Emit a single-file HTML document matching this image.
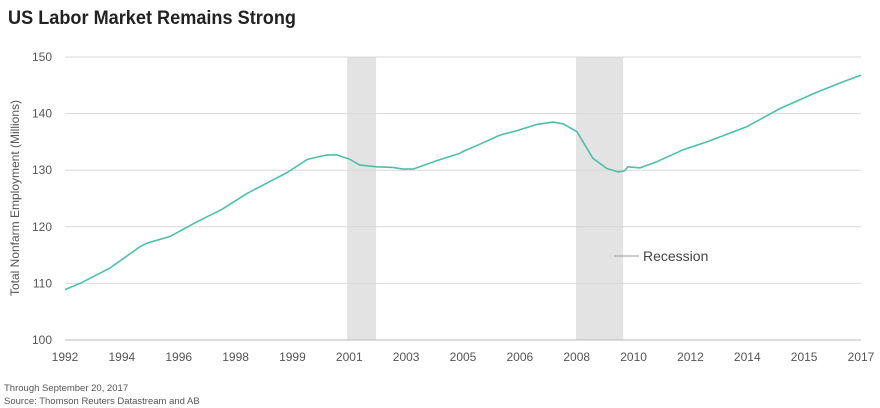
<!DOCTYPE html>
<html><head><meta charset="utf-8"><style>
body{margin:0;background:#fff;font-family:"Liberation Sans",sans-serif;}
#wrap{position:relative;width:880px;height:408px;overflow:hidden;}
</style></head><body>
<div id="wrap">
<svg id="chart" width="880" height="408"></svg>
</div>
<script>
const years=[1992.0,1992.47,1993.41,1994.36,1994.58,1995.30,1996.15,1996.93,1997.72,1998.54,1998.98,1999.61,2000.23,2000.54,2000.95,2001.26,2001.80,2002.30,2002.62,2002.93,2003.68,2004.41,2004.50,2005.03,2005.66,2006.20,2006.82,2007.33,2007.64,2008.08,2008.58,2009.02,2009.37,2009.58,2009.68,2010.06,2010.59,2011.41,2012.16,2013.42,2014.46,2015.62,2016.43,2017.0];
const employment=[108.9,110.0,112.7,116.5,117.1,118.3,120.9,123.1,125.9,128.3,129.6,131.9,132.7,132.7,131.9,130.9,130.6,130.5,130.2,130.2,131.7,133.0,133.3,134.6,136.2,137.0,138.1,138.5,138.2,136.8,132.1,130.3,129.7,129.9,130.6,130.4,131.5,133.6,135.0,137.7,140.9,143.8,145.6,146.8];
const recessionStart=[2000.86,2008.05];
const recessionEnd=[2001.77,2009.53];
const yTicks=[100,110,120,130,140,150];
const xTickLabels=["1992","1994","1996","1998","1999","2001","2003","2005","2006","2008","2010","2012","2014","2015","2017"];

const NS="http://www.w3.org/2000/svg";
const svg=document.getElementById('chart');
const X0=65,X1=861,Y0=340,Y1=57,xMin=1992,xMax=2017,yMin=100,yMax=150;
const xs=v=>X0+(v-xMin)/(xMax-xMin)*(X1-X0);
const ys=v=>Y0-(v-yMin)/(yMax-yMin)*(Y0-Y1);
function mk(t,a,txt){const e=document.createElementNS(NS,t);for(const k in a)e.setAttribute(k,a[k]);if(txt!==undefined)e.textContent=txt;svg.appendChild(e);return e;}

let e=mk('text',{x:8,y:24,'font-size':19,'font-weight':'bold',fill:'#222',textLength:288,lengthAdjust:'spacingAndGlyphs'},'US Labor Market Remains Strong');



for(let i=0;i<recessionStart.length;i++){
  e=mk('rect',{x:xs(recessionStart[i]),y:Y1,width:xs(recessionEnd[i])-xs(recessionStart[i]),height:Y0-Y1,fill:'#e3e3e3'});
  
  
}
yTicks.forEach(v=>{
  e=mk('line',{x1:X0,x2:X1,y1:ys(v),y2:ys(v),stroke:v===100?'#bbb':'#d8d8d8','stroke-width':1});
  
  
  e=mk('text',{x:52,y:ys(v)+4,'font-size':12,fill:'#555','text-anchor':'end'},String(v));
  
  
});
xTickLabels.forEach((l,i)=>{
  const x=X0+i*(X1-X0)/(xTickLabels.length-1);
  e=mk('text',{x:x,y:361,'font-size':12,fill:'#555','text-anchor':'middle'},l);
  
  
});
e=mk('text',{x:0,y:0,'font-size':12,fill:'#555','text-anchor':'middle',transform:'translate(19,198) rotate(-90)'},'Total Nonfarm Employment (Millions)');



const d=years.map((y,i)=>(i?'L':'M')+xs(y).toFixed(1)+','+ys(employment[i]).toFixed(1)).join(' ');
e=mk('path',{d:d,fill:'none',stroke:'#4dbfa8','stroke-width':1.6,'stroke-linejoin':'round'});



e=mk('line',{x1:614,x2:639,y1:256,y2:256,stroke:'#999','stroke-width':1});


e=mk('text',{x:643,y:261,'font-size':14,fill:'#444'},'Recession');



e=mk('text',{x:4,y:391,'font-size':9.5,fill:'#555'},'Through September 20, 2017');


e=mk('text',{x:4,y:404,'font-size':9.5,fill:'#555'},'Source: Thomson Reuters Datastream and AB');


</script>
</body></html>
